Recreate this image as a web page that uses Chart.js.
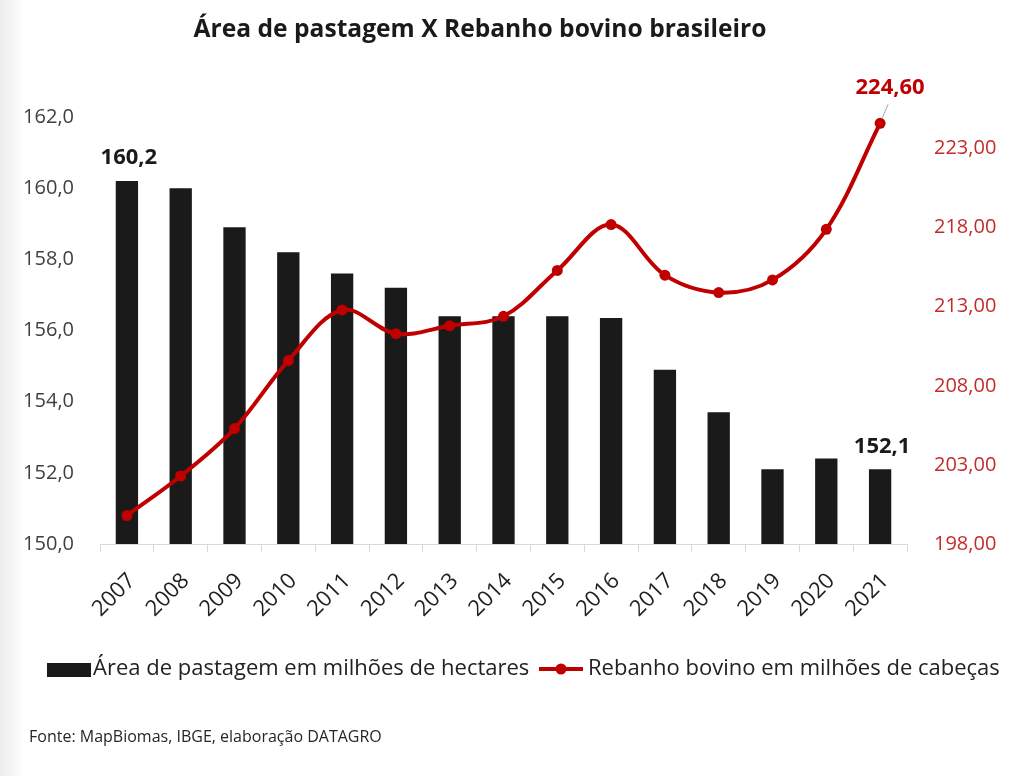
<!DOCTYPE html>
<html><head><meta charset="utf-8">
<script src="https://cdn.jsdelivr.net/npm/chart.js@4.4.1/dist/chart.umd.min.js"></script>
<style>
html,body{margin:0;padding:0;background:#fff;}
#wrap{width:1010px;height:776px;position:relative;background:linear-gradient(to right,#ececec 0px,#ffffff 24px);}
canvas{display:block;}
</style>
</head><body><div id="wrap"><canvas id="c" width="1010" height="776"></canvas></div>
<script>
const years = ['2007','2008','2009','2010','2011','2012','2013','2014','2015','2016','2017','2018','2019','2020','2021'];
const pastureArea = [160.2, 160.0, 158.9, 158.2, 157.6, 157.2, 156.4, 156.4, 156.4, 156.35, 154.9, 153.7, 152.1, 152.4, 152.1];
const cattleHerd = [199.8, 202.3, 205.3, 209.6, 212.8, 211.3, 211.8, 212.4, 215.3, 218.2, 215.0, 213.9, 214.7, 217.9, 224.6];
const leftTicks = [150, 152, 154, 156, 158, 160, 162];
const rightTicks = [198, 203, 208, 213, 218, 223];
const labelledBars = [0, 14];
const labelledPoints = [14];
const titleText = 'Área de pastagem X Rebanho bovino brasileiro';
const barLegend = 'Área de pastagem em milhões de hectares';
const lineLegend = 'Rebanho bovino em milhões de cabeças';
const sourceText = 'Fonte: MapBiomas, IBGE, elaboração DATAGRO';

const FONT = '"Open Sans", "Noto Sans", sans-serif';
const BAR_COLOR = '#1a1a1a';
const LINE_COLOR = '#c00000';
const fmt = (v, d) => v.toFixed(d).replace('.', ',');

const annotations = {
  id: 'annotations',
  afterDatasetsDraw(chart) {
    const ctx = chart.ctx;
    const lineMeta = chart.getDatasetMeta(0);
    const barMeta = chart.getDatasetMeta(1);
    ctx.save();
    ctx.textAlign = 'center';
    ctx.textBaseline = 'middle';
    ctx.font = 'bold 22px ' + FONT;
    ctx.fillStyle = '#1a1a1a';
    labelledBars.forEach(i => {
      const b = barMeta.data[i];
      ctx.fillText(fmt(pastureArea[i], 1), b.x + 2, b.y - 23);
    });
    labelledPoints.forEach(i => {
      const p = lineMeta.data[i];
      ctx.strokeStyle = '#a6a6a6';
      ctx.lineWidth = 1;
      ctx.beginPath();
      ctx.moveTo(p.x + 2, p.y - 5);
      ctx.lineTo(p.x + 8, p.y - 19);
      ctx.stroke();
      ctx.fillStyle = LINE_COLOR;
      ctx.fillText(fmt(cattleHerd[i], 2), p.x + 10, p.y - 36);
    });
    ctx.restore();
  },
  afterDraw(chart) {
    const ctx = chart.ctx;
    ctx.save();
    // title
    ctx.textAlign = 'center';
    ctx.textBaseline = 'middle';
    ctx.fillStyle = '#1a1a1a';
    ctx.font = 'bold 24.6px ' + FONT;
    ctx.fillText(titleText, 480, 30);
    // legend
    ctx.textAlign = 'left';
    ctx.fillStyle = BAR_COLOR;
    ctx.fillRect(47, 663, 44, 14);
    ctx.font = '22px ' + FONT;
    ctx.fillStyle = '#222222';
    ctx.fillText(barLegend, 93, 669);
    ctx.strokeStyle = LINE_COLOR;
    ctx.lineWidth = 4;
    ctx.beginPath();
    ctx.moveTo(539, 669);
    ctx.lineTo(583, 669);
    ctx.stroke();
    ctx.fillStyle = LINE_COLOR;
    ctx.beginPath();
    ctx.arc(561, 669, 5.5, 0, Math.PI * 2);
    ctx.fill();
    ctx.fillStyle = '#222222';
    ctx.fillText(lineLegend, 588, 669);
    // source
    ctx.font = '16px ' + FONT;
    ctx.fillStyle = '#262626';
    ctx.fillText(sourceText, 29, 737);
    ctx.restore();
  }
};

new Chart(document.getElementById('c'), {
  data: {
    labels: years,
    datasets: [
      {
        type: 'line',
        label: lineLegend,
        data: cattleHerd,
        yAxisID: 'y1',
        borderColor: LINE_COLOR,
        backgroundColor: LINE_COLOR,
        borderWidth: 4,
        pointRadius: 5.5,
        pointBackgroundColor: LINE_COLOR,
        pointBorderWidth: 0,
        tension: 0.35,
        order: 0
      },
      {
        type: 'bar',
        label: barLegend,
        data: pastureArea,
        yAxisID: 'y',
        backgroundColor: BAR_COLOR,
        borderWidth: 0,
        barPercentage: 0.415,
        categoryPercentage: 1,
        order: 1
      }
    ]
  },
  plugins: [annotations],
  options: {
    responsive: false,
    animation: false,
    devicePixelRatio: 1,
    layout: { padding: { top: 117, left: 0, right: 0, bottom: 0 } },
    plugins: { legend: { display: false }, title: { display: false }, tooltip: { enabled: false } },
    scales: {
      x: {
        offset: true,
        grid: { display: true, drawOnChartArea: false, drawTicks: true, tickLength: 8, color: '#d9d9d9', offset: true },
        border: { display: true, color: '#d9d9d9', width: 1 },
        ticks: { color: '#1f1f1f', font: { family: FONT, size: 22 }, maxRotation: 45, minRotation: 45, padding: 16, labelOffset: 5 },
        afterFit(s) { s.height = 232; }
      },
      y: {
        position: 'left',
        min: 150, max: 162,
        grid: { display: false },
        border: { display: false },
        afterBuildTicks(s) { s.ticks = leftTicks.map(v => ({ value: v })); },
        ticks: { color: '#404040', font: { family: FONT, size: 20 }, padding: 18, callback: v => fmt(v, 1) },
        afterFit(s) { s.width = 100; }
      },
      y1: {
        position: 'right',
        min: 198, max: 225,
        grid: { display: false },
        border: { display: false },
        afterBuildTicks(s) { s.ticks = rightTicks.map(v => ({ value: v })); },
        ticks: { color: '#c42b2b', font: { family: FONT, size: 20 }, padding: 19, callback: v => fmt(v, 2) },
        afterFit(s) { s.width = 103; }
      }
    }
  }
});
</script>
</body></html>
